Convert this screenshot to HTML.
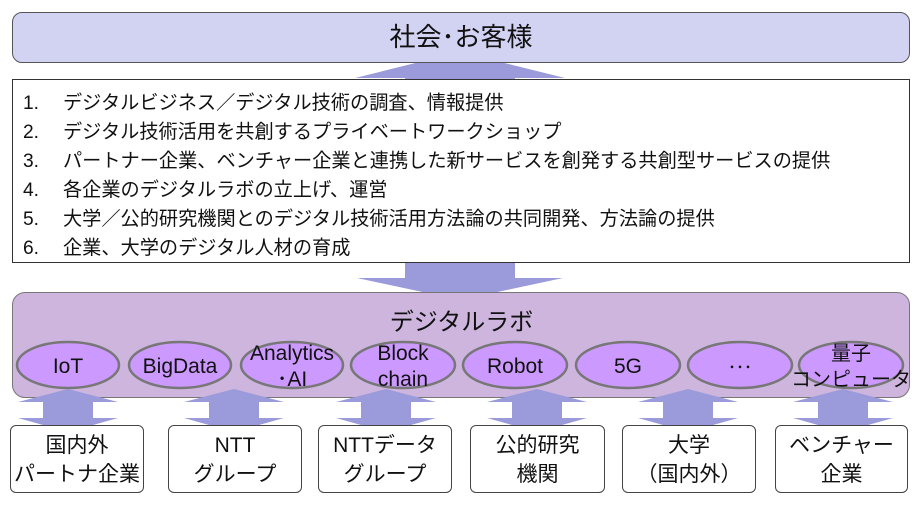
<!DOCTYPE html>
<html><head><meta charset="utf-8"><style>
body{margin:0;width:923px;height:532px;background:#fff;overflow:hidden;position:relative;font-family:"Liberation Sans","Noto Sans CJK JP",sans-serif;color:#111}
.abs{position:absolute}
.list div{position:absolute;left:10px;font-size:19.2px;white-space:nowrap}
.list span{display:inline-block;width:40px}
.bb{position:absolute;top:425px;height:68px;border:1.5px solid #444;border-radius:6px;background:#fff;box-sizing:border-box;text-align:center;font-size:21px;line-height:29px;padding-top:5px}
</style></head><body>
<svg class="abs" style="left:0;top:0" width="923" height="532">
<polygon points="460,52 565,78 515,78 515,278 563,278 460,300 357,278 405,278 405,78 355,78" fill="#9b9bdc"/>
</svg>
<div class="abs" style="left:12px;top:12px;width:898px;height:51px;box-sizing:border-box;border:1.5px solid #555;border-radius:10px;background:#d2d2f2;text-align:center;font-size:26px;line-height:48px">社会･お客様</div>
<div class="abs list" style="left:12px;top:79px;width:898px;height:184px;box-sizing:border-box;border:1.5px solid #333;background:#fff">
<div style="top:7px"><span>1.</span>デジタルビジネス／デジタル技術の調査、情報提供</div>
<div style="top:36px"><span>2.</span>デジタル技術活用を共創するプライベートワークショップ</div>
<div style="top:65px"><span>3.</span>パートナー企業、ベンチャー企業と連携した新サービスを創発する共創型サービスの提供</div>
<div style="top:94px"><span>4.</span>各企業のデジタルラボの立上げ、運営</div>
<div style="top:123px"><span>5.</span>大学／公的研究機関とのデジタル技術活用方法論の共同開発、方法論の提供</div>
<div style="top:152px"><span>6.</span>企業、大学のデジタル人材の育成</div>
</div>
<div class="abs" style="left:12px;top:292px;width:898px;height:106px;box-sizing:border-box;border:1.5px solid #777;border-radius:13px;background:#cdb5de"></div>
<div class="abs" style="left:0;top:302px;width:923px;text-align:center;font-size:24px">デジタルラボ</div>
<svg class="abs" style="left:0;top:0" width="923" height="532" font-family="Liberation Sans, Noto Sans CJK JP, sans-serif" font-size="21" text-anchor="middle" fill="#111">
<g fill="#cc99ff" stroke="#777" stroke-width="2.5">
<ellipse cx="68" cy="365" rx="51" ry="23"/><ellipse cx="180" cy="365" rx="51" ry="23"/><ellipse cx="292" cy="365" rx="51" ry="23"/><ellipse cx="403" cy="365" rx="52" ry="23"/><ellipse cx="515" cy="365" rx="52" ry="23"/><ellipse cx="628" cy="365" rx="52" ry="23"/><ellipse cx="740" cy="365" rx="52" ry="23"/><ellipse cx="851" cy="365" rx="52" ry="23"/>
</g>
<g fill="#9b9bdc">
<polygon id="a" points="68,389 118,402 93,402 93,418 118,418 68,432 18,418 43,418 43,402 18,402"/>
<use href="#a" x="166"/><use href="#a" x="318"/><use href="#a" x="469"/><use href="#a" x="620"/><use href="#a" x="775"/>
</g>
<g fill="#111">
<text x="68" y="373">IoT</text><text x="180" y="373">BigData</text>
<text x="292" y="360">Analytics</text><text x="292" y="386">･AI</text>
<text x="403" y="360">Block</text><text x="403" y="386">chain</text>
<text x="515" y="373">Robot</text><text x="628" y="373">5G</text><text x="740" y="373" font-size="16">･･･</text>
<text x="851" y="360" font-size="20">量子</text><text x="851" y="386" font-size="20">コンピュータ</text>
</g>
</svg>
<div class="bb" style="left:10px;width:134px">国内外<br>パートナ企業</div>
<div class="bb" style="left:168px;width:134px">NTT<br>グループ</div>
<div class="bb" style="left:318px;width:134px">NTTデータ<br>グループ</div>
<div class="bb" style="left:470px;width:135px">公的研究<br>機関</div>
<div class="bb" style="left:622px;width:134px">大学<br>（国内外）</div>
<div class="bb" style="left:775px;width:133px">ベンチャー<br>企業</div>
</body></html>
